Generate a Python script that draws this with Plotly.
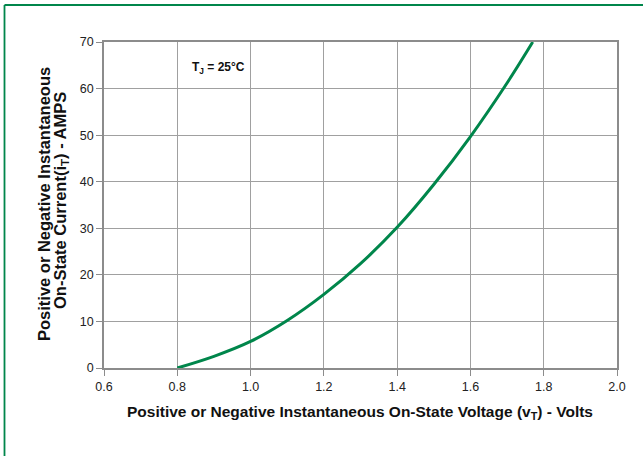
import plotly.graph_objects as go

# Data
voltage = [0.80, 0.90, 1.00, 1.10, 1.20, 1.30, 1.40, 1.50, 1.60, 1.70, 1.77]
current = [0.0, 2.5, 5.7, 10.2, 15.8, 22.4, 30.2, 39.4, 49.7, 61.2, 70.0]

x_ticks = [0.6, 0.8, 1.0, 1.2, 1.4, 1.6, 1.8, 2.0]
x_tick_labels = ["0.6", "0.8", "1.0", "1.2", "1.4", "1.6", "1.8", "2.0"]
y_ticks = [0, 10, 20, 30, 40, 50, 60, 70]

GREEN = "#00864b"
GRID = "#a0a0a0"
FONT = "Liberation Sans, Arial, Helvetica, sans-serif"

fig = go.Figure()
fig.add_trace(go.Scatter(
    x=voltage, y=current, mode="lines",
    line=dict(color=GREEN, width=3, shape="spline", smoothing=1.0),
    hoverinfo="skip", showlegend=False,
))

L, R, T, B = 104, 26, 42, 88
PW, PH = 643 - L - R, 456 - T - B


def px(vx):
    return (vx - L) / PW


def py(vy):
    return (456 - B - vy) / PH


fig.update_layout(
    width=643, height=456,
    margin=dict(l=L, r=R, t=T, b=B, autoexpand=False),
    paper_bgcolor="white", plot_bgcolor="white",
    font=dict(family=FONT, color="#222222", size=12),
    xaxis=dict(
        range=[0.6, 2.0], tickvals=x_ticks, ticktext=x_tick_labels,
        showgrid=True, gridcolor=GRID, gridwidth=1.3,
        showline=True, linecolor="#8c8c8c", linewidth=1.6, mirror=True,
        ticks="outside", ticklen=6, tickcolor="#8c8c8c", tickwidth=1.3,
        tickfont=dict(size=12.5, color="#222222"),
        zeroline=False, automargin=False,
    ),
    yaxis=dict(
        range=[0, 70], tickvals=y_ticks,
        showgrid=True, gridcolor=GRID, gridwidth=1.3,
        showline=True, linecolor="#8c8c8c", linewidth=1.6, mirror=True,
        ticks="outside", ticklen=6, tickcolor="#8c8c8c", tickwidth=1.3,
        tickfont=dict(size=12.5, color="#222222"),
        zeroline=False, automargin=False,
    ),
    annotations=[
        dict(x=px(190), y=py(68), xref="paper", yref="paper", xanchor="left", yanchor="middle",
             text="<b>T<sub>J</sub> = 25°C</b>", showarrow=False,
             font=dict(size=12, color="#111111", family=FONT)),
        dict(x=px(360), y=py(412), xref="paper", yref="paper", xanchor="center", yanchor="middle",
             text="<b>Positive or Negative Instantaneous On-State Voltage (v<sub>T</sub>) - Volts</b>",
             showarrow=False, font=dict(size=15.5, color="#111111", family=FONT)),
        dict(x=px(44), y=py(204), xref="paper", yref="paper", xanchor="center", yanchor="middle",
             text="<b>Positive or Negative Instantaneous</b>", textangle=-90,
             showarrow=False, font=dict(size=16.5, color="#111111", family=FONT)),
        dict(x=px(61), y=py(201), xref="paper", yref="paper", xanchor="center", yanchor="middle",
             text="<b>On-State Current(i<sub>T</sub>) - AMPS</b>", textangle=-90,
             showarrow=False, font=dict(size=16.5, color="#111111", family=FONT)),
    ],
    shapes=[
        dict(type="line", xref="paper", yref="paper",
             x0=px(4.5), x1=px(4.5), y0=py(460), y1=py(5),
             line=dict(color=GREEN, width=1.8), layer="below"),
        dict(type="line", xref="paper", yref="paper",
             x0=px(4.5), x1=px(650), y0=py(5), y1=py(5),
             line=dict(color=GREEN, width=1.8), layer="below"),
    ],
)

fig.write_html("out.html", config={"displayModeBar": False},
               post_script="document.body.style.margin='0';document.body.style.padding='0';")
